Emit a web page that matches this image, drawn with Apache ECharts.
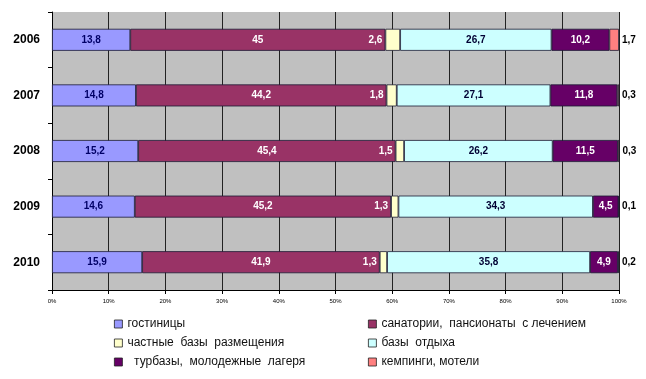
<!DOCTYPE html>
<html><head><meta charset="utf-8">
<script src="https://cdn.jsdelivr.net/npm/echarts@6/dist/echarts.min.js"></script>
<style>html,body{margin:0;padding:0;background:#fff}#c{width:646px;height:379px}</style>
</head><body><div id="c"></div>
<script>
const years = ['2006','2007','2008','2009','2010'];
const seriesNames = ['гостиницы','санатории,  пансионаты  с лечением','частные  базы  размещения','базы  отдыха','  турбазы,  молодежные  лагеря','кемпинги, мотели'];
const hotels     = [13.8, 14.8, 15.2, 14.6, 15.9];
const sanatoria  = [45, 44.2, 45.4, 45.2, 41.9];
const privateAcc = [2.6, 1.8, 1.5, 1.3, 1.3];
const restBases  = [26.7, 27.1, 26.2, 34.3, 35.8];
const tourBases  = [10.2, 11.8, 11.5, 4.5, 4.9];
const campings   = [1.7, 0.3, 0.3, 0.1, 0.2];

const values = [hotels, sanatoria, privateAcc, restBases, tourBases, campings];
const colors = ['#9999FF','#993366','#FFFFCC','#CCFFFF','#660066','#FF8080'];
const labelCfg = [
  {position:'inside', color:'#000066'},
  {position:'inside', color:'#ffffff'},
  {position:'left', color:'#ffffff', distance:3},
  {position:'inside', color:'#000033'},
  {position:'inside', color:'#ffffff'},
  {position:'right', color:'#000000', distance:3}
];
const fmt = p => String(p.value).replace('.', ',');
const font = '"Liberation Sans", Arial, sans-serif';
// legend slots: [left, top]
const legendPos = [[114,318],[368,318],[114,337],[368,337],[114,356],[368,356]];

const chart = echarts.init(document.getElementById('c'), null, {renderer:'canvas'});
chart.setOption({
  animation:false,
  backgroundColor:'#ffffff',
  grid:{left:52, right:27, top:12, bottom:89, show:true, backgroundColor:'#C0C0C0', borderWidth:0},
  xAxis:{type:'value', min:0, max:100, interval:10,
    axisLabel:{formatter:v=>v+'%', fontSize:6, color:'#000', fontFamily:font, margin:8},
    axisLine:{show:true, lineStyle:{color:'#000', width:1}},
    axisTick:{show:true, length:4, lineStyle:{color:'#000'}},
    splitLine:{show:true, lineStyle:{color:'#222', width:1}}},
  yAxis:{type:'category', inverse:true, data:years,
    axisLine:{show:true, lineStyle:{color:'#000', width:1}},
    axisTick:{show:true, length:4, lineStyle:{color:'#000'}},
    axisLabel:{fontSize:12, fontWeight:'bold', color:'#000', fontFamily:font, margin:12},
    splitLine:{show:false}},
  legend: seriesNames.map((n,i)=>({
    left:legendPos[i][0], top:legendPos[i][1], padding:0, itemWidth:8, itemHeight:8,
    data:[n], icon:'rect', selectedMode:false,
    itemStyle:{borderColor:'#222', borderWidth:0.8},
    textStyle:{fontSize:12, color:'#111', fontFamily:font}
  })),
  series: values.map((v,i)=>({
    type:'bar', name:seriesNames[i], stack:'total', data:v, barWidth:22,
    itemStyle:{color:colors[i], borderColor:'#1a1a33', borderWidth:0.8},
    label:{show:true, formatter:fmt, fontSize:10, fontWeight:'bold', fontFamily:font,
      position:labelCfg[i].position, color:labelCfg[i].color, distance:labelCfg[i].distance||5}
  }))
});
</script></body></html>
